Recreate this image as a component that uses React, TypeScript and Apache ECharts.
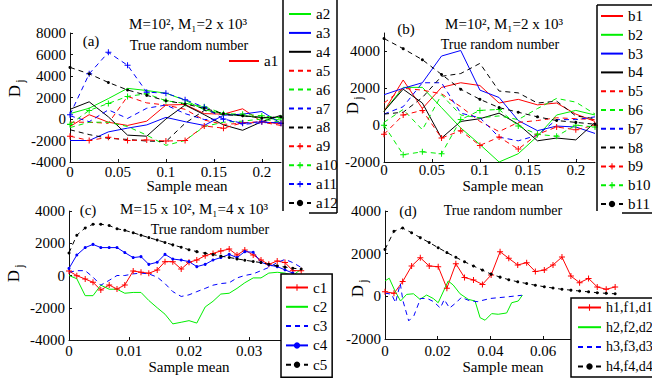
import React, { useEffect, useRef } from 'react';
import * as echarts from 'echarts';

const SERIF = '"Liberation Serif", "Times New Roman", serif';
const RED = '#ff0000';
const GREEN = '#00ee00';
const BLUE = '#0000ff';
const BLACK = '#000000';
const PLUS = 'path://M2.5,0H3.5V2.5H6V3.5H3.5V6H2.5V3.5H0V2.5H2.5Z';

// ---------- Panel (a) ----------
const XA = [0, 0.02, 0.04, 0.06, 0.08, 0.1, 0.12, 0.14, 0.16, 0.18, 0.2, 0.22];
const A1 = [-700, 400, -300, -600, -200, 1300, 1350, 500, 450, 950, -250, -450];
const A2 = [500, 1000, 1900, 2850, 2650, 2400, 1750, 850, 500, 300, 150, -100];
const A3 = [-2000, -2000, -1200, -850, -550, 150, -250, -600, 350, 450, 700, -400];
const A4 = [900, 1600, 200, -1500, -1600, 0, 1300, 400, -550, -1050, -250, 350];
const A5 = [-300, -300, -400, 2100, 1500, 1300, 900, -100, -500, -400, -300, -600];
const A6 = [-800, -300, -300, -700, -1500, -2450, -2000, -700, -300, -200, 0, -300];
const A7 = [300, -250, 850, 50, 1000, 1300, 500, -50, 0, -500, -350, -300];
const A8 = [-1000, -1450, -1800, -1900, -2050, -2100, -400, 800, 400, 300, 150, 150];
const A9 = [-1600, -2000, -1700, -2000, -1950, -2050, -2000, -650, -850, -350, -250, -400];
const A10 = [-500, 800, 1450, 2100, 2350, 1700, 1450, 1150, 500, 450, 300, 100];
const A11 = [400, 4200, 6200, 5000, 2500, 2400, 1800, 1100, 0, -400, -250, -400];
const A12 = [4800, 4200, 3400, 2700, 2200, 1700, 1400, 1000, 500, 300, 100, 200];

// ---------- Panel (b) ----------
const XB = [0, 0.02, 0.04, 0.06, 0.08, 0.1, 0.12, 0.14, 0.16, 0.18, 0.2, 0.22];
const B1 = [750, 2450, 900, 2050, 2300, 2150, 1200, 1400, 1100, 1200, 600, 200];
const B2 = [750, 2050, 2050, 950, -150, -1050, -2000, -1550, -600, 550, 800, 550];
const B3 = [1650, 2000, 2300, 3750, 4050, 1900, 1500, 250, -300, -50, -100, -450];
const B4 = [750, 1950, 1200, -700, 200, 350, 650, 50, -850, -700, -800, 150];
const B5 = [1200, 2000, 1900, 1700, 1000, 200, -350, 150, 250, 400, 350, 300];
const B6 = [150, 850, -250, 1650, 550, 400, 500, 300, 900, 1450, 1250, 600];
const B7 = [600, 1000, 2300, 2300, 650, 400, -650, -850, -550, 300, 300, 450];
const B8 = [600, 700, 1500, 2650, 2800, 3350, 1850, 1750, 1200, 1300, 500, 350];
const B9 = [-500, 550, 800, -700, -300, -1100, -650, -1300, -500, -100, -250, 0];
const B10 = [0, -1600, -1450, -1550, 300, 800, 850, -50, -500, -600, 0, -100];
const B11 = [4700, 4150, 3550, 2750, 1950, 1400, 950, 700, 450, 250, 150, 50];

// ---------- Panel (c) ----------
const XC = [0, 0.0013, 0.0027, 0.004, 0.0053, 0.0067, 0.008, 0.0093, 0.0107, 0.012, 0.0133, 0.0147, 0.016, 0.0173, 0.0187,
  0.02, 0.0213, 0.0227, 0.024, 0.0253, 0.0267, 0.028, 0.0293, 0.0307, 0.032, 0.0333, 0.0347, 0.036, 0.0373, 0.0387];
const C1 = [280, -10, -220, -420, -900, -590, -840, -590, 280, 200, 140, 340, 860, 860, 400, 820, 960, 1230, 1370, 1520,
  1640, 1270, 1580, 1270, 960, 690, 900, 800, 300, 300];
const C2 = [0, -200, -1250, -1250, -600, -850, -850, -1100, -1050, -1050, -1550, -2000, -2400, -3000, -2900, -2800, -2950,
  -1950, -1600, -1150, -1100, -800, -450, -150, -150, 150, 200, 150, 0, 400];
const C3 = [200, 300, 300, -100, -600, -300, 0, 0, 100, 150, 100, -100, -500, -1000, -1300, -1200, -1000, -800, -600, -500,
  -450, -150, 0, 100, 300, 500, 800, 1000, 800, 500];
const C4 = [440, 1270, 1730, 1930, 1730, 1730, 1730, 1420, 1110, 1170, 690, 820, 1310, 1020, 960, 860, 550, 690, 960, 1110,
  1310, 1110, 1480, 1440, 820, 650, 550, 350, 150];
const C5 = [1400, 2500, 2950, 3180, 3180, 3100, 2900, 2800, 2650, 2500, 2350, 2200, 2050, 1900, 1750, 1600, 1480, 1380,
  1300, 1200, 1120, 1030, 950, 870, 800, 700, 600, 520, 450, 400];

// ---------- Panel (d) ----------
const XD = [0, 0.0034, 0.0067, 0.0101, 0.0134, 0.0168, 0.0202, 0.0235, 0.0269, 0.0302, 0.0336, 0.037, 0.0403, 0.0437,
  0.047, 0.0504, 0.0538, 0.0571, 0.0605, 0.0638, 0.0672, 0.0706, 0.0739, 0.0773, 0.0806, 0.084, 0.0874];
const H1 = [220, 140, 690, 1420, 1810, 1420, 1390, 380, 1530, 880, 770, 560, 1000, 2090, 1780, 1470, 1580, 1160, 1230,
  1470, 1840, 950, 640, 840, 440, 330, 440];
const H2X = [0, 0.0016, 0.0038, 0.0059, 0.0082, 0.0108, 0.0133, 0.0158, 0.0183, 0.0202, 0.0228, 0.024, 0.0259, 0.0285,
  0.0316, 0.0342, 0.0361, 0.038, 0.0405, 0.043, 0.0462, 0.0481, 0.0506, 0.0522];
const H2Y = [720, 850, 250, -220, 90, 120, -140, 60, -100, -300, 400, 720, 530, 120, -140, -220, -1000, -1120, -810, -840,
  -780, -300, -220, 60];
const H3X = [0, 0.0025, 0.004, 0.0058, 0.0068, 0.009, 0.011, 0.0135, 0.016, 0.0185, 0.021, 0.0225, 0.0245, 0.027, 0.029,
  0.032, 0.035, 0.04, 0.046, 0.052];
const H3Y = [150, 100, -300, 600, -200, -1150, -900, -100, -100, -250, -550, -150, -550, -300, -50, -200, -250, -100, -30, 50];
const H4 = [2200, 3050, 3200, 2980, 2750, 2520, 2280, 2050, 1830, 1620, 1420, 1230, 1040, 900, 780, 680, 600, 520, 450,
  390, 330, 290, 250, 210, 170, 140, 120];

type Marker = 'none' | '+' | '.';

const markerOf: Record<string, Marker> = {};

function mk(name: string, xs: number[], ys: number[], color: string, dashed: boolean, marker: Marker, gi: number) {
  markerOf[name] = marker;
  return {
    type: 'line',
    name,
    xAxisIndex: gi,
    yAxisIndex: gi,
    data: ys.map((y, i) => [xs[i], y]),
    symbol: marker === '+' ? PLUS : 'circle',
    symbolSize: marker === '+' ? 6 : 3,
    showSymbol: marker !== 'none',
    lineStyle: { color, width: 1, type: dashed ? [5, 4] : 'solid' },
    itemStyle: { color },
    silent: true,
    z: 2,
  };
}

const fmtNum = (v: number) => String(Math.round(v * 100000) / 100000);

function xAxis(gi: number, max: number, interval: number, margin: number, hideFrom?: number) {
  return {
    type: 'value',
    gridIndex: gi,
    min: 0,
    max,
    interval,
    axisLine: { show: true, onZero: false, lineStyle: { color: '#111', width: 1 } },
    axisTick: { show: true, inside: true, length: 3, lineStyle: { color: '#111' } },
    splitLine: { show: false },
    axisLabel: {
      color: '#000',
      fontFamily: SERIF,
      fontSize: 15,
      lineHeight: 13,
      margin,
      showMaxLabel: false,
      formatter: (v: number) => (hideFrom !== undefined && v >= hideFrom ? '' : fmtNum(v)),
    },
  };
}

function yAxis(gi: number, min: number, max: number, showMax: boolean) {
  return {
    type: 'value',
    gridIndex: gi,
    min,
    max,
    interval: 2000,
    axisLine: { show: true, onZero: false, lineStyle: { color: '#111', width: 1 } },
    axisTick: { show: true, inside: true, length: 3, lineStyle: { color: '#111' } },
    splitLine: { show: false },
    axisLabel: {
      color: '#000',
      fontFamily: SERIF,
      fontSize: 15,
      lineHeight: 13,
      margin: 4,
      showMaxLabel: showMax,
      formatter: (v: number) => (v % 2000 === 0 ? String(v) : ''),
    },
  };
}

function txt(text: string, x: number, y: number, size = 15, align = 'center') {
  return {
    type: 'text',
    x,
    y,
    silent: true,
    z: 10,
    style: {
      text,
      font: `${size}px ${SERIF}`,
      fill: '#000',
      align,
      verticalAlign: 'middle',
      textAlign: align,
      textVerticalAlign: 'middle',
    },
  };
}

function dj(x: number, y: number) {
  return {
    type: 'group',
    x,
    y,
    rotation: Math.PI / 2,
    silent: true,
    z: 10,
    children: [
      txt('D', 0, 0, 17),
      txt('j', 10, 6, 12),
    ],
  };
}

function ln(x1: number, y1: number, x2: number, y2: number) {
  return {
    type: 'line',
    silent: true,
    z: 10,
    shape: { x1, y1, x2, y2 },
    style: { stroke: '#000', lineWidth: 1.5 },
  };
}

const legendText = { fontFamily: SERIF, fontSize: 15, color: '#000', lineHeight: 15 };

function legend(names: string[], left: number, top: number, itemGap: number, extra: any = {}) {
  return {
    data: names.map((n) =>
      markerOf[n] === 'none' ? { name: n, itemStyle: { opacity: 0 } } : { name: n }
    ),
    left,
    top,
    orient: 'vertical',
    itemWidth: 22,
    itemHeight: 8,
    itemGap,
    padding: 0,
    selectedMode: false,
    textStyle: legendText,
    ...extra,
  };
}

export default function App() {
  const ref = useRef<HTMLDivElement>(null);
  useEffect(() => {
    const chart = echarts.init(ref.current!, null, { renderer: 'svg' });
    const series = [
      mk('a1', XA, A1, RED, false, 'none', 0),
      mk('a2', XA, A2, GREEN, false, 'none', 0),
      mk('a3', XA, A3, BLUE, false, 'none', 0),
      mk('a4', XA, A4, BLACK, false, 'none', 0),
      mk('a5', XA, A5, RED, true, 'none', 0),
      mk('a6', XA, A6, GREEN, true, 'none', 0),
      mk('a7', XA, A7, BLUE, true, 'none', 0),
      mk('a8', XA, A8, BLACK, true, 'none', 0),
      mk('a9', XA, A9, RED, true, '+', 0),
      mk('a10', XA, A10, GREEN, true, '+', 0),
      mk('a11', XA, A11, BLUE, true, '+', 0),
      mk('a12', XA, A12, BLACK, true, '.', 0),
      mk('b1', XB, B1, RED, false, 'none', 1),
      mk('b2', XB, B2, GREEN, false, 'none', 1),
      mk('b3', XB, B3, BLUE, false, 'none', 1),
      mk('b4', XB, B4, BLACK, false, 'none', 1),
      mk('b5', XB, B5, RED, true, 'none', 1),
      mk('b6', XB, B6, GREEN, true, 'none', 1),
      mk('b7', XB, B7, BLUE, true, 'none', 1),
      mk('b8', XB, B8, BLACK, true, 'none', 1),
      mk('b9', XB, B9, RED, true, '+', 1),
      mk('b10', XB, B10, GREEN, true, '+', 1),
      mk('b11', XB, B11, BLACK, true, '.', 1),
      mk('c1', XC, C1, RED, false, '+', 2),
      mk('c2', XC, C2, GREEN, false, 'none', 2),
      mk('c3', XC, C3, BLUE, true, 'none', 2),
      mk('c4', XC, C4, BLUE, false, '.', 2),
      mk('c5', XC, C5, BLACK, true, '.', 2),
      mk('h1,f1,d1', XD, H1, RED, false, '+', 3),
      mk('h2,f2,d2', H2X, H2Y, GREEN, false, 'none', 3),
      mk('h3,f3,d3', H3X, H3Y, BLUE, true, 'none', 3),
      mk('h4,f4,d4', XD, H4, BLACK, true, '.', 3),
    ];
    const option: any = {
      animation: false,
      backgroundColor: '#ffffff',
      grid: [
        { left: 70, top: 33, width: 211, height: 129 },
        { left: 384, top: 33, width: 211, height: 129 },
        { left: 69, top: 211, width: 240, height: 129 },
        { left: 385, top: 211, width: 237, height: 128 },
      ],
      xAxis: [
        xAxis(0, 0.22, 0.05, 3),
        xAxis(1, 0.22, 0.05, 1),
        xAxis(2, 0.04, 0.01, 4),
        xAxis(3, 0.09, 0.02, 5, 0.075),
      ],
      yAxis: [
        yAxis(0, -4000, 8000, true),
        yAxis(1, -2000, 5000, false),
        yAxis(2, -4000, 4000, true),
        yAxis(3, -2000, 4000, true),
      ],
      legend: [
        legend(['a1'], 228, 53.5, 0, { itemWidth: 30 }),
        legend(['a2', 'a3', 'a4', 'a5', 'a6', 'a7', 'a8', 'a9', 'a10', 'a11', 'a12'], 288, 6.5, 3.9),
        legend(['b1', 'b2', 'b3', 'b4', 'b5', 'b6', 'b7', 'b8', 'b9', 'b10', 'b11'], 600, 8.5, 3.8),
        legend(['c1', 'c2', 'c3', 'c4', 'c5'], 281, 274, 4.3, {
          padding: [6, 5, 5, 4],
          borderColor: '#000',
          borderWidth: 1.5,
          backgroundColor: '#ffffff',
        }),
        legend(['h1,f1,d1', 'h2,f2,d2', 'h3,f3,d3', 'h4,f4,d4'], 571, 298, 4.7, {
          padding: [2, 3, 3, 6],
          itemWidth: 23,
          borderColor: '#000',
          borderWidth: 1.5,
          backgroundColor: '#ffffff',
          textStyle: { ...legendText, fontSize: 14 },
        }),
      ],
      graphic: {
        elements: [
          // panel (a)
          txt('M=10², M₁=2 x 10³', 188, 24, 15),
          txt('True random number', 189, 45, 14),
          txt('(a)', 91, 41, 15),
          txt('Sample mean', 187, 186, 15),
          dj(14, 91),
          // panel (b)
          txt('M=10², M₁=2 x 10³', 504, 24, 15),
          txt('True random number', 500, 44, 14),
          txt('(b)', 406, 29, 15),
          txt('Sample mean', 503, 186, 15),
          dj(352, 108),
          // panel (c)
          txt('M=15 x 10², M₁=4 x 10³', 194, 209, 15),
          txt('True random number', 210, 229, 14),
          txt('(c)', 88, 210, 15),
          txt('Sample mean', 189, 367, 15),
          dj(13, 276),
          // panel (d)
          txt('True random number', 503, 210, 14),
          txt('(d)', 408, 211, 15),
          txt('Sample mean', 503, 367, 15),
          dj(357, 291),
          // legend box edges for (a) and (b)
          ln(283, 0, 283, 211),
          ln(337, 0, 337, 213),
          ln(309, 213, 337, 213),
          ln(597, 5, 597, 211),
          ln(597, 5, 652, 5),
          ln(622, 213, 652, 213),
        ],
      },
      series,
    };
    chart.setOption(option);
    return () => chart.dispose();
  }, []);
  return <div ref={ref} style={{ position: 'absolute', left: 0, top: 0, width: 652, height: 381 }} />;
}
